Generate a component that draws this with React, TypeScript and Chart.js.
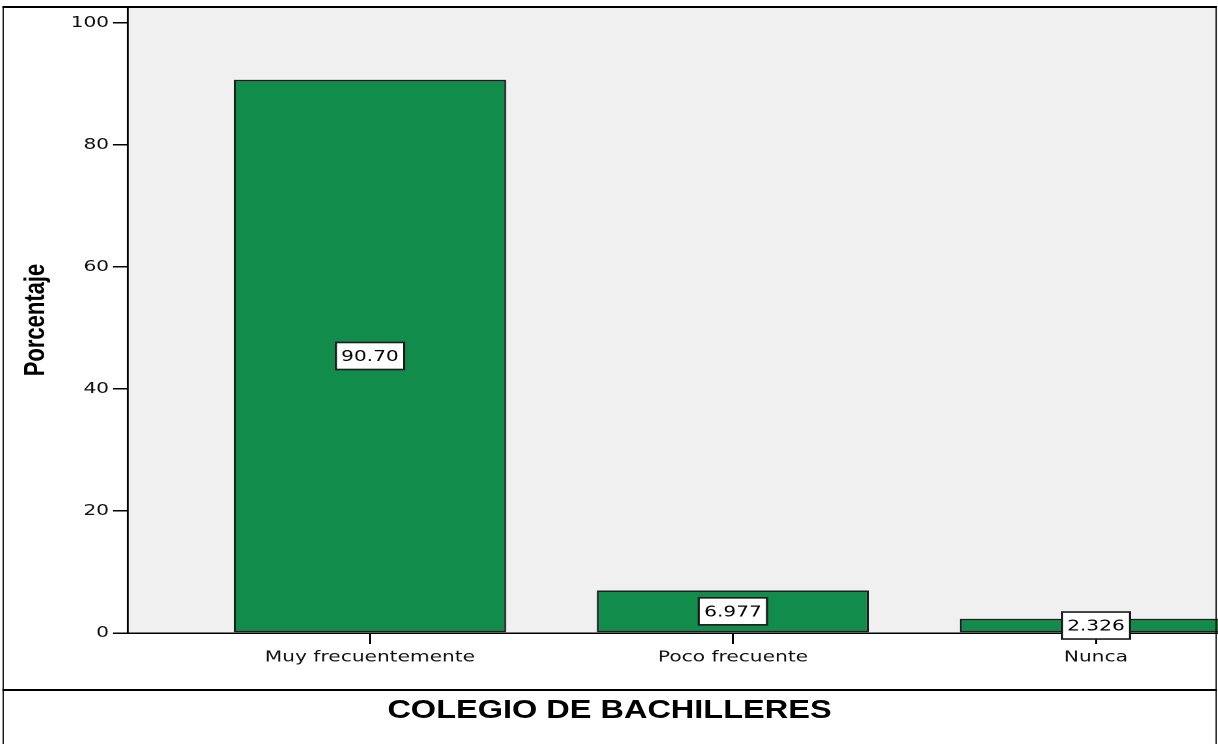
import React, { useEffect, useRef } from 'react';
import { Chart, registerables } from 'chart.js';

Chart.register(...registerables);

const categories = ['Muy frecuentemente', 'Poco frecuente', 'Nunca'];
const percentages = [90.7, 6.977, 2.326];
const valueLabels = ['90.70', '6.977', '2.326'];
const yTickValues = [0, 20, 40, 60, 80, 100];
const yAxisTitle = 'Porcentaje';
const caption = 'COLEGIO DE BACHILLERES';

const SX = 1.3; // the reference picture is stretched horizontally
const TICK_FONT = "'DejaVu Sans', sans-serif";
const CANVAS_W = 1030;
const CANVAS_H = 689;

export default function App() {
  const ref = useRef<HTMLCanvasElement>(null);

  useEffect(() => {
    if (!ref.current) return;

    const bgPlugin = {
      id: 'plotBg',
      beforeDraw(chart: any) {
        const { ctx, chartArea: a } = chart;
        ctx.save();
        ctx.fillStyle = '#f0f0f0';
        ctx.fillRect(a.left, a.top, a.right - a.left, a.bottom - a.top);
        ctx.restore();
      },
    };

    const labelPlugin = {
      id: 'boxLabels',
      afterDatasetsDraw(chart: any) {
        const ctx = chart.ctx;
        const meta = chart.getDatasetMeta(0);
        ctx.save();
        ctx.font = `15.5px ${TICK_FONT}`;
        ctx.textAlign = 'center';
        ctx.textBaseline = 'middle';
        meta.data.forEach((el: any, i: number) => {
          const { x, y, base } = el.getProps(['x', 'y', 'base'], true);
          const cy = (y + base) / 2;
          const text = valueLabels[i];
          const w = ctx.measureText(text).width + 8;
          const h = 27;
          ctx.fillStyle = '#ffffff';
          ctx.fillRect(x - w / 2, cy - h / 2, w, h);
          ctx.strokeStyle = '#1a1a1a';
          ctx.lineWidth = 1.6;
          ctx.strokeRect(x - w / 2, cy - h / 2, w, h);
          ctx.fillStyle = '#000000';
          ctx.fillText(text, x, cy + 1);
        });
        ctx.restore();
      },
    };

    const chart = new Chart(ref.current, {
      type: 'bar',
      data: {
        datasets: [
          {
            data: percentages.map((v, i) => ({ x: i, y: v })),
            backgroundColor: '#128c4a',
            borderColor: '#1e1e1e',
            borderWidth: 1.6,
            borderSkipped: false,
            barPercentage: 0.75,
            categoryPercentage: 1,
          },
        ],
      },
      options: {
        animation: false,
        responsive: false,
        devicePixelRatio: 2,
        layout: { padding: { top: 7, left: 0, right: 0, bottom: 0 } },
        plugins: { legend: { display: false }, tooltip: { enabled: false } },
        scales: {
          x: {
            type: 'linear',
            min: -0.6667,
            max: 2.6697,
            offset: false,
            afterBuildTicks: (s: any) => {
              s.ticks = categories.map((_, i) => ({ value: i }));
            },
            afterFit: (s: any) => {
              s.height = CANVAS_H - 633;
              s.paddingLeft = 0;
              s.paddingRight = 0;
            },
            grid: {
              display: true,
              offset: false,
              drawOnChartArea: false,
              drawTicks: true,
              tickLength: 11,
              color: '#000',
              lineWidth: 1.5,
            },
            border: { display: true, color: '#000', width: 1.5 },
            ticks: {
              callback: (v: any) => categories[v as number] ?? '',
              font: { family: TICK_FONT, size: 15.5 },
              color: '#111',
              padding: 4,
              maxRotation: 0,
              autoSkip: false,
            },
          },
          y: {
            type: 'linear',
            min: 0,
            max: 102.62,
            afterBuildTicks: (s: any) => {
              s.ticks = yTickValues.map((v) => ({ value: v }));
            },
            afterFit: (s: any) => {
              s.width = 128 / SX;
              s.paddingTop = 0;
              s.paddingBottom = 0;
            },
            grid: {
              display: true,
              drawOnChartArea: false,
              drawTicks: true,
              tickLength: 15 / SX,
              color: '#000',
              lineWidth: 1.5,
            },
            border: { display: true, color: '#000', width: 1.5 },
            ticks: {
              font: { family: TICK_FONT, size: 15.5 },
              color: '#111',
              padding: 3,
            },
            title: {
              display: true,
              text: yAxisTitle,
              color: '#000',
              font: { family: "'Liberation Sans', Arial, sans-serif", size: 22, weight: 'bold' },
              padding: { top: 14.5, bottom: 0 },
            },
          },
        },
      },
      plugins: [bgPlugin, labelPlugin],
    } as any);

    return () => chart.destroy();
  }, []);

  const boxLeft = 2 / SX;
  const boxWidth = (1217 - 2) / SX;

  return (
    <div
      style={{
        position: 'fixed',
        left: 0,
        top: 0,
        width: 1218,
        height: 744,
        overflow: 'hidden',
        background: '#fff',
      }}
    >
      <div
        style={{
          position: 'absolute',
          left: 0,
          top: 0,
          width: 1218 / SX,
          height: 744,
          transform: `scaleX(${SX})`,
          transformOrigin: '0 0',
        }}
      >
        <canvas
          ref={ref}
          width={CANVAS_W}
          height={CANVAS_H}
          style={{ position: 'absolute', left: 0, top: 0, width: CANVAS_W, height: CANVAS_H }}
        />
        <div
          style={{
            position: 'absolute',
            left: boxLeft,
            top: 6,
            width: boxWidth,
            height: 800,
            boxSizing: 'border-box',
            borderStyle: 'solid',
            borderColor: '#000',
            borderWidth: `2px ${2 / SX}px 0 ${2 / SX}px`,
          }}
        />
        <div
          style={{
            position: 'absolute',
            left: boxLeft,
            top: 688.5,
            width: boxWidth,
            height: 2.5,
            background: '#000',
          }}
        />
        <div
          style={{
            position: 'absolute',
            left: boxLeft,
            top: 691,
            width: boxWidth,
            height: 36,
            lineHeight: '36px',
            textAlign: 'center',
            fontFamily: "'Liberation Sans', Arial, sans-serif",
            fontWeight: 'bold',
            fontSize: 25,
            color: '#000',
          }}
        >
          {caption}
        </div>
      </div>
    </div>
  );
}
